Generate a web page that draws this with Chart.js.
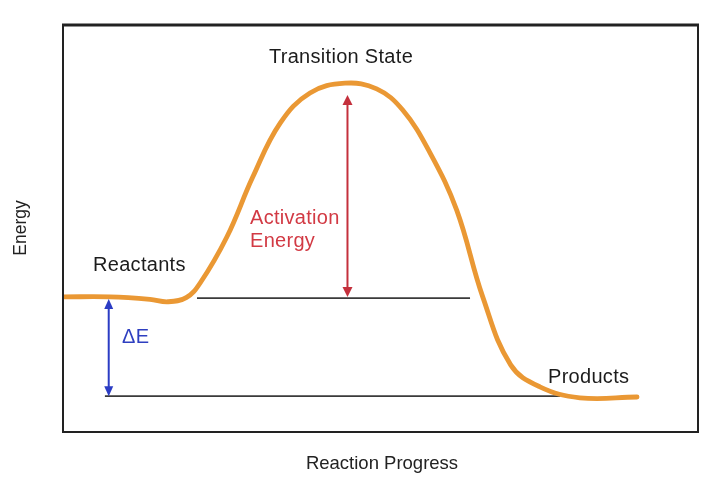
<!DOCTYPE html>
<html>
<head>
<meta charset="utf-8">
<script src="https://cdn.jsdelivr.net/npm/chart.js@4.4.1/dist/chart.umd.min.js"></script>
<style>
    html, body { margin: 0; padding: 0; background: #fff; }
    #wrap { width: 720px; height: 478px; }
</style>
</head>
<body>
<div id="wrap"><canvas id="chart" width="720" height="478"></canvas></div>
<script>
// reaction coordinate (0-100) and energy (0-100)
const progress = [0, 7.4, 13.7, 16.5, 19.4, 21.6, 25.8, 29.9, 34.2, 38.9, 44.4, 49.4, 53.5, 57.8, 62.0,
    66.1, 70.5, 75.1, 81.4, 90.4];
const energy = [33.2, 33.2, 32.6, 32.0, 33.0, 36.6, 47.9, 62.7, 75.9, 83.3, 85.7, 84.3, 79.1, 68.6, 54.5,
    33.2, 16.5, 11.1, 8.4, 8.6];

// energy levels and where their guide lines run
const reactantLevel = 32.9;
const productLevel = 8.8;
const arrowTop = 82.8;
const reactantSpan = [21.1, 64.1];
const productSpan = [6.6, 78.3];
const activationAt = 44.8;
const deltaAt = 7.2;

const font = '"Liberation Sans", Arial, Helvetica, sans-serif';

const notes = [
    { text: "Transition State", x: 341, y: 63, align: "center", color: "#1c1c1c" },
    { text: "Reactants", x: 93, y: 271, align: "left", color: "#1c1c1c" },
    { text: "Activation", x: 250, y: 224, align: "left", color: "#d23a44" },
    { text: "Energy", x: 250, y: 247, align: "left", color: "#d23a44" },
    { text: "\u0394E", x: 122, y: 343, align: "left", color: "#2e3fc0" },
    { text: "Products", x: 548, y: 383, align: "left", color: "#1c1c1c" }
];

const drawArrow = (ctx, x, yA, yB, color, len, half) => {
    ctx.save();
    ctx.strokeStyle = color;
    ctx.fillStyle = color;
    ctx.lineWidth = 2;
    ctx.beginPath();
    ctx.moveTo(x, yA + len - 1);
    ctx.lineTo(x, yB - len + 1);
    ctx.stroke();
    ctx.beginPath(); // top head
    ctx.moveTo(x, yA);
    ctx.lineTo(x - half, yA + len);
    ctx.lineTo(x + half, yA + len);
    ctx.closePath();
    ctx.fill();
    ctx.beginPath(); // bottom head
    ctx.moveTo(x, yB);
    ctx.lineTo(x - half, yB - len);
    ctx.lineTo(x + half, yB - len);
    ctx.closePath();
    ctx.fill();
    ctx.restore();
}

const decorations = {
    id: "decorations",
    afterDraw: (chart) => {
        const ctx = chart.ctx;
        const area = chart.chartArea;
        const xs = chart.scales.x;
        const ys = chart.scales.y;

        // frame
        ctx.save();
        ctx.strokeStyle = "#222";
        ctx.lineWidth = 2;
        ctx.strokeRect(area.left, area.top, area.right - area.left, area.bottom - area.top);
        ctx.lineWidth = 3;
        ctx.beginPath();
        ctx.moveTo(area.left - 1, area.top);
        ctx.lineTo(area.right + 1, area.top);
        ctx.stroke();
        ctx.restore();

        drawArrow(ctx, xs.getPixelForValue(activationAt), ys.getPixelForValue(arrowTop),
            ys.getPixelForValue(reactantLevel) - 1, "#c4303c", 10, 5);
        drawArrow(ctx, xs.getPixelForValue(deltaAt), ys.getPixelForValue(reactantLevel) + 1,
            ys.getPixelForValue(productLevel), "#2b3cc4", 10, 4.5);

        ctx.save();
        ctx.textBaseline = "alphabetic";
        ctx.font = "20px " + font;
        ctx.letterSpacing = "0.3px";
        notes.forEach(n => {
            ctx.fillStyle = n.color;
            ctx.textAlign = n.align;
            ctx.fillText(n.text, n.x, n.y);
        });
        ctx.letterSpacing = "0px";
        ctx.fillStyle = "#222";
        ctx.textAlign = "center";
        ctx.font = "18.5px " + font;
        ctx.fillText("Reaction Progress", 382, 469);
        // vertical axis title
        ctx.translate(26, 228);
        ctx.rotate(-Math.PI / 2);
        ctx.font = "17.5px " + font;
        ctx.fillText("Energy", 0, 0);
        ctx.restore();
    }
};

const toPoints = (xArr, yArr) => xArr.map((x, i) => ({ x: x, y: yArr[i] }));

new Chart(document.getElementById("chart"), {
    type: "scatter",
    data: {
        datasets: [{
            label: "Energy",
            data: toPoints(progress, energy),
            showLine: true,
            borderColor: "rgb(234, 152, 52)",
            borderWidth: 4.8,
            pointRadius: 0,
            tension: 0.4,
            borderCapStyle: "round",
            borderJoinStyle: "round",
            order: 0
        }, {
            label: "Reactant level",
            data: toPoints(reactantSpan, [reactantLevel, reactantLevel]),
            showLine: true,
            borderColor: "#3a3a3a",
            borderWidth: 1.8,
            pointRadius: 0,
            order: 1
        }, {
            label: "Product level",
            data: toPoints(productSpan, [productLevel, productLevel]),
            showLine: true,
            borderColor: "#3a3a3a",
            borderWidth: 1.8,
            pointRadius: 0,
            order: 1
        }]
    },
    options: {
        responsive: false,
        animation: false,
        devicePixelRatio: 1,
        layout: {
            padding: { left: 63, top: 25, right: 22, bottom: 46 }
        },
        scales: {
            x: { type: "linear", min: 0, max: 100, display: false },
            y: { type: "linear", min: 0, max: 100, display: false }
        },
        plugins: {
            legend: { display: false },
            tooltip: { enabled: false }
        }
    },
    plugins: [decorations]
});
</script>
</body>
</html>
